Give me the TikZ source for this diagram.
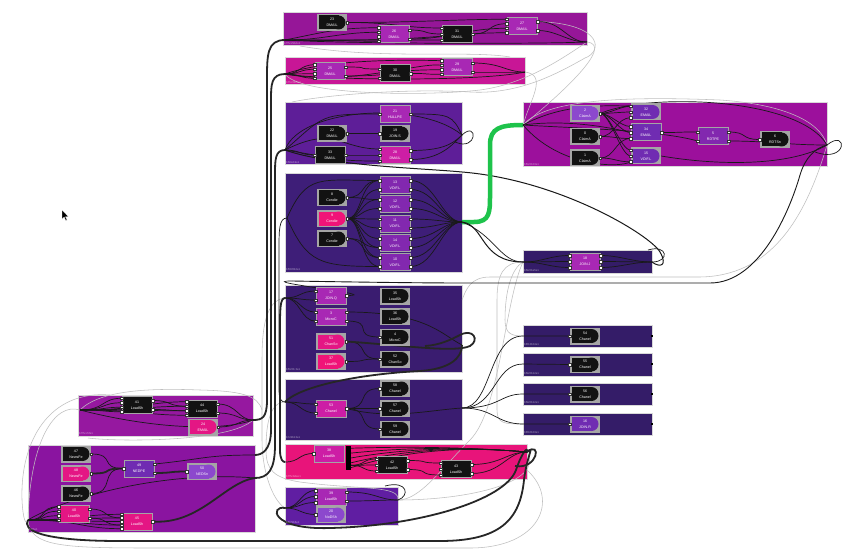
\documentclass[tikz,border=0pt]{standalone}
\usepackage{fontspec}
\setmainfont{Liberation Sans}
\usepackage{tikz}
\usetikzlibrary{calc}
\pgfdeclarelayer{bg}
\pgfdeclarelayer{wire}
\pgfsetlayers{bg,wire,main}

\definecolor{cA}{RGB}{150,22,152}
\definecolor{cB}{RGB}{200,22,150}
\definecolor{cC}{RGB}{94,30,152}
\definecolor{cD}{RGB}{62,30,120}
\definecolor{cE}{RGB}{156,16,156}
\definecolor{cF}{RGB}{52,28,104}
\definecolor{cK}{RGB}{58,28,112}
\definecolor{cM}{RGB}{232,20,122}
\definecolor{cN}{RGB}{96,30,162}
\definecolor{cO}{RGB}{150,24,160}
\definecolor{cP}{RGB}{138,20,160}
\definecolor{kMag}{RGB}{168,40,180}
\definecolor{kRose}{RGB}{205,30,165}
\definecolor{kPink}{RGB}{228,22,132}
\definecolor{kHot}{RGB}{240,20,120}
\definecolor{kVio}{RGB}{112,44,178}
\definecolor{kPur}{RGB}{130,40,175}
\definecolor{kLav}{RGB}{140,72,205}
\definecolor{kBlk}{RGB}{18,18,18}
\definecolor{frame}{RGB}{165,165,165}
\definecolor{wgreen}{RGB}{30,195,75}

\tikzset{
  cont/.style={draw=gray!30, line width=1pt},
  clbl/.style={anchor=south west, inner sep=1pt, text=white, opacity=0.55,
    font=\fontsize{2.8}{3}\selectfont},
  op/.style={minimum width=30pt, minimum height=17pt, inner sep=0pt, align=center,
    text=white, font=\fontsize{3.6}{5.6}\selectfont},
  bx/.style={op, fill=#1, draw=frame, line width=1pt},
  dn/.style={op, fill=frame, path picture={
      \fill[#1] ([shift={(1.5pt,-1.5pt)}]path picture bounding box.north west)
        rectangle ([shift={(-8.5pt,1.5pt)}]path picture bounding box.south east);
      \fill[#1] ([xshift=-8.5pt]path picture bounding box.east) circle (7pt);}},
  port/.style={fill=white, draw=black!80, line width=0.3pt},
  wk/.style={draw=black!90, line width=0.7pt},
  wt/.style={draw=black!85, line width=1.8pt},
  wg/.style={draw=gray!50, line width=0.55pt},
  wgr/.style={draw=wgreen, line width=4.5pt}
}

% ports on the left / right side of an operator box
\newcommand\pL[2]{%
  \foreach \k in {1,...,#2}{%
    \pgfmathsetmacro\fr{(\k-0.5)/#2}%
    \coordinate (#1-l\k) at ($(#1.north west)!\fr!(#1.south west)$);
    \filldraw[port] (#1-l\k) +(-1.3pt,-1.3pt) rectangle +(1.3pt,1.3pt);
  }}
\newcommand\pR[2]{%
  \foreach \k in {1,...,#2}{%
    \pgfmathsetmacro\fr{(\k-0.5)/#2}%
    \coordinate (#1-r\k) at ($(#1.north east)!\fr!(#1.south east)$);
    \filldraw[port] (#1-r\k) +(-1.3pt,-1.3pt) rectangle +(1.3pt,1.3pt);
  }}

\begin{document}
\begin{tikzpicture}[x=1pt,y=-1pt]
\useasboundingbox (0,0) rectangle (848,556);

% containers
\begin{pgfonlayer}{bg}
  \fill[white] (0,0) rectangle (848,556);
  \draw[cont,fill=cA] (283,13) rectangle (587,46);
  \draw[cont,fill=cB] (285,58) rectangle (525,85);
  \draw[cont,fill=cC] (285,103) rectangle (462,165);
  \draw[cont,fill=cD] (285,174) rectangle (462,272);
  \draw[cont,fill=cE] (523,103) rectangle (827,167);
  \draw[cont,fill=cF] (523,250) rectangle (652,273);
  \draw[cont,fill=cF] (523,325) rectangle (652,347);
  \draw[cont,fill=cF] (523,353) rectangle (652,376);
  \draw[cont,fill=cF] (523,383) rectangle (652,405);
  \draw[cont,fill=cF] (523,413) rectangle (652,435);
  \draw[cont,fill=cK] (285,285) rectangle (462,372);
  \draw[cont,fill=cK] (285,379) rectangle (462,440);
  \draw[cont,fill=cM] (285,444) rectangle (527,479);
  \draw[cont,fill=cN] (285,487) rectangle (398,525);
  \draw[cont,fill=cO] (78,395) rectangle (253,436);
  \draw[cont,fill=cP] (28,445) rectangle (255,532);
\end{pgfonlayer}

\node[clbl] (lA) at (283,46) {bf75c29b4e1};
\node[clbl] (lB) at (285,85) {bf7c29b5e1};
\node[clbl] (lC) at (285,165) {bf99eb9e1};
\node[clbl] (lD) at (285,272) {bf51f8b2e1};
\node[clbl] (lE) at (523,167) {bf522b03e1};
\node[clbl] (lF) at (523,273) {bf922be5e1};
\node[clbl] (lG) at (523,347) {bf613b04e1};
\node[clbl] (lH) at (523,376) {bf922b12e1};
\node[clbl] (lI) at (523,405) {bf922b12e1};
\node[clbl] (lJ) at (523,435) {bf616b03e1};
\node[clbl] (lK) at (285,372) {bf522b 3e1};
\node[clbl] (lL) at (285,440) {bf 22b13e1};
\node[clbl] (lM) at (285,479) {bf75cbdee1};
\node[clbl] (lN) at (285,525) {bf579b6e1};
\node[clbl] (lO) at (78,436) {bf75cc5fe1};
\node[clbl] (lP) at (28,532) {bf75e1};

% junction points on container edges
\coordinate (Ain) at (285,40);   \coordinate (Aout) at (587,42);
\coordinate (Bin) at (285,74);   \coordinate (Bout) at (525,72);
\coordinate (Cin) at (285,150);  \coordinate (Cout) at (462,135);
\coordinate (Din) at (287,218);  \coordinate (Dout) at (462,222);
\coordinate (Ein) at (523,125);  \coordinate (Eout) at (827,145);
\coordinate (Fin) at (523,262);  \coordinate (Fout) at (652,262);
\coordinate (Gin) at (523,336);  \coordinate (Gout) at (652,336);
\coordinate (Hin) at (523,364);  \coordinate (Hout) at (652,364);
\coordinate (Iin) at (523,394);  \coordinate (Iout) at (652,394);
\coordinate (Jin) at (523,424);  \coordinate (Jout) at (652,424);
\coordinate (Kin) at (285,298);  \coordinate (Kout) at (462,345);
\coordinate (Ktop) at (292,281);
\coordinate (Lin) at (285,402);  \coordinate (Lout) at (462,408);
\coordinate (Min) at (285,462);  \coordinate (Mout) at (527,452);
\coordinate (Nin) at (285,508);  \coordinate (Nout) at (398,500);
\coordinate (Oin) at (80,410);   \coordinate (Oout) at (253,420);
\coordinate (Pin) at (28,520);   \coordinate (Pout) at (255,455);
\coordinate (Pout2) at (255,478);

% A
\node[dn=kBlk] (n23) at (332,22.5) {23\\DMAIL};
\node[bx=kMag] (n26) at (394,34.5) {26\\DMAIL};
\node[bx=kBlk] (n31) at (457,34) {31\\DMAIL};
\node[bx=kMag] (n27) at (522,26) {27\\DMAIL};
\pR{n23}{1} \pL{n26}{4}\pR{n26}{2} \pL{n31}{3}\pR{n31}{1} \pL{n27}{4}\pR{n27}{2}
% B
\node[bx=kMag] (n25) at (330,71.5) {25\\DMAIL};
\node[bx=kBlk] (n30) at (395,73.5) {30\\DMAIL};
\node[bx=kMag] (n29) at (457,67.5) {29\\DMAIL};
\pL{n25}{4}\pR{n25}{2} \pL{n30}{2}\pR{n30}{1} \pL{n29}{4}\pR{n29}{2}
% C
\node[bx=kMag] (n21) at (395,114) {21\\HULLPE};
\node[dn=kBlk] (n22) at (332,133.5) {22\\DMAIL};
\node[dn=kBlk] (n19) at (395,133.5) {19\\JOIN.S};
\node[bx=kBlk] (n33) at (330,155) {33\\DMAIL};
\node[bx=kRose] (n28) at (395,155) {28\\DMAIL};
\pL{n21}{1}\pR{n21}{1} \pR{n22}{1} \pL{n19}{1} \pL{n33}{1}\pR{n33}{1} \pL{n28}{3}\pR{n28}{2}
% D
\node[dn=kBlk] (n8) at (332,197.5) {8\\Condie};
\node[dn=kHot] (n9) at (332,218.5) {9\\Condie};
\node[dn=kBlk] (n7) at (332,238.5) {7\\Condie};
\node[bx=kPur] (n13) at (395,185) {13\\VDIF.L};
\node[bx=kPur] (n12) at (395,204) {12\\VDIF.L};
\node[bx=kPur] (n11) at (395,223.5) {11\\VDIF.L};
\node[bx=kPur] (n14) at (395,243) {14\\VDIF.L};
\node[bx=kPur] (n10) at (395,262) {10\\VDIF.L};
\pR{n8}{1}\pR{n9}{1}\pR{n7}{1}
\foreach \v in {n13,n12,n11,n14,n10}{\pL{\v}{2}\pR{\v}{2}}
% E
\node[dn=kLav] (n2) at (585,113.5) {2\\ClaimA};
\node[dn=kBlk] (n0) at (585,136.5) {0\\ClaimA};
\node[dn=kBlk] (n1) at (585,158) {1\\ClaimA};
\node[dn=kVio] (n32) at (646,112) {32\\EMAIL};
\node[bx=kVio] (n34) at (646,132.5) {34\\EMAIL};
\node[dn=kVio] (n15) at (646,156) {15\\VDIF.L};
\node[bx=kPur] (n5) at (713,136.5) {5\\RDTPE};
\node[dn=kBlk] (n6) at (775,139.5) {6\\RDTSn};
\pR{n2}{1}\pR{n0}{1}\pR{n1}{1} \pL{n32}{3} \pL{n34}{3}\pR{n34}{1} \pL{n15}{3}
\pL{n5}{2}\pR{n5}{2} \pL{n6}{1}
% F .. J
\node[bx=kMag] (n18) at (585,261.5) {18\\JOIN.J};
\node[dn=kBlk] (n54) at (585,336) {54\\Chanel};
\node[dn=kBlk] (n55) at (585,364.5) {55\\Chanel};
\node[dn=kBlk] (n56) at (585,394) {56\\Chanel};
\node[dn=kVio] (n16) at (585,424) {16\\JOIN.R};
\pL{n18}{3}\pR{n18}{3} \pL{n54}{1}\pL{n55}{1}\pL{n56}{1}\pL{n16}{1}
\foreach \c in {Gout,Hout,Iout,Jout}{\fill[black] (\c) +(-1pt,-1.2pt) rectangle +(1pt,1.2pt);}
% K
\node[bx=kMag] (n17) at (331,295.5) {17\\JOIN.Q};
\node[bx=kMag] (n3) at (331,316.5) {3\\MicroC};
\node[dn=kPink] (n51) at (331,341.5) {51\\ChanSo};
\node[dn=kHot] (n37) at (331,361.5) {37\\LoadSh};
\node[dn=kBlk] (n35) at (395,296) {35\\LoadSh};
\node[dn=kBlk] (n36) at (395,316.5) {36\\LoadSh};
\node[dn=kBlk] (n4) at (395,337) {4\\MicroC};
\node[dn=kBlk] (n52) at (395,359) {52\\ChanSo};
\pL{n17}{2}\pR{n17}{1} \pL{n3}{2}\pR{n3}{2} \pR{n51}{1}\pR{n37}{1} \pL{n4}{1}\pL{n52}{1}
% L
\node[bx=kRose] (n53) at (331,408.5) {53\\Chanel};
\node[dn=kBlk] (n58) at (395,388.5) {58\\Chanel};
\node[dn=kBlk] (n57) at (395,408.5) {57\\Chanel};
\node[dn=kBlk] (n59) at (395,429) {59\\Chanel};
\pL{n53}{2}\pR{n53}{1} \pL{n58}{1}\pL{n57}{1}\pL{n59}{1}
% M
\node[bx=kRose] (n38) at (329,453.5) {38\\LoadSh};
\node[fill=black, minimum width=5pt, minimum height=24pt, inner sep=0pt] (bar) at (348,458) {};
\node[bx=kBlk] (n42) at (392,465) {42\\LoadSh};
\node[bx=kBlk] (n43) at (456,469) {43\\LoadSh};
\pL{n38}{1} \pL{n42}{3}\pR{n42}{2} \pL{n43}{3}\pR{n43}{2}
% N
\node[bx=kMag] (n39) at (331,496.5) {39\\LoadSh};
\node[dn=kLav] (n20) at (331,514.5) {20\\NoDSh};
\pL{n39}{3}\pR{n39}{2} \pL{n20}{1}
% O
\node[bx=kBlk] (n41) at (137,405) {41\\LoadSh};
\node[bx=kBlk] (n44) at (202,408.5) {44\\LoadSh};
\node[dn=kPink] (n24) at (203,427) {24\\EMAIL};
\pL{n41}{4}\pR{n41}{2} \pL{n44}{4}\pR{n44}{2} \pR{n24}{1}
% P
\node[dn=kBlk] (n47) at (76,454) {47\\NewsFe};
\node[dn=kPink] (n48) at (76,473.5) {48\\NewsFe};
\node[dn=kBlk] (n46) at (76,493.5) {46\\NewsFe};
\node[bx=kVio] (n49) at (139,468.5) {49\\NEDPE};
\node[dn=kLav] (n50) at (202,471.5) {50\\NEDSn};
\node[bx=kPink] (n40) at (74,513.5) {40\\LoadSh};
\node[bx=kPink] (n45) at (137,521.5) {45\\LoadSh};
\pR{n47}{1}\pR{n48}{1}\pR{n46}{1} \pL{n49}{1}\pR{n49}{2} \pL{n50}{1}
\pL{n40}{4}\pR{n40}{2} \pL{n45}{5}\pR{n45}{1}

% mouse pointer
\filldraw[black, draw=white, line width=0.2pt] (62,210) -- (62,219) -- (64.2,217) -- (65.8,220.5)
  -- (67,220) -- (65.4,216.6) -- (68.2,216.6) -- cycle;

\begin{pgfonlayer}{wire}
% light grey links
\draw[wg] (Aout) .. controls (615,45) and (560,95) .. (Ein);
\draw[wg] (Bout) .. controls (548,75) and (530,100) .. (Ein);
\draw[wg] (n27-r1) .. controls (605,24) and (602,52) .. (585,58) .. controls (560,72) and (520,95) .. (470,92)
  .. controls (400,88) and (320,96) .. (292,102);
\draw[wg] (Bin) .. controls (300,96) and (430,96) .. (480,90) .. controls (525,84) and (560,60) .. (Aout);
\draw[wg] (300,46) .. controls (380,60) and (470,50) .. (510,57);
\draw[wg] (Ein) .. controls (545,100) and (620,96) .. (720,100) .. controls (780,104) and (820,120) .. (Eout);
\draw[wg] (Eout) .. controls (805,220) and (770,276) .. (700,277) -- (490,277)
  .. controls (470,277) and (466,290) .. (462,300);
\draw[wg] (Fin) .. controls (503,262) and (497,275) .. (497,300) -- (497,410)
  .. controls (497,424) and (505,424) .. (Jin);
\draw[wg] (Fin) .. controls (512,268) and (505,290) .. (505,320) .. controls (505,334) and (512,336) .. (Gin);
\draw[wg] (Kin) .. controls (265,300) and (262,330) .. (262,360) -- (262,440)
  .. controls (262,470) and (272,500) .. (Nin);
\draw[wg] (Lin) .. controls (268,402) and (266,430) .. (266,450) .. controls (266,470) and (274,478) .. (300,482)
  .. controls (360,490) and (400,485) .. (Nout);
\draw[wg] (Oin) .. controls (55,402) and (30,440) .. (Pin);
\draw[wg] (110,395) .. controls (50,390) and (20,440) .. (22,500) .. controls (23,520) and (26,526) .. (Pin);
\draw[wg] (Oin) .. controls (100,390) and (150,388) .. (200,390) .. controls (240,391) and (258,395) .. (262,410);
\draw[wg] (Oout) .. controls (230,442) and (120,442) .. (88,438);
\draw[wg] (Mout) .. controls (545,482) and (470,500) .. (Nout);
\draw[wg] (Pin) .. controls (30,546) and (60,548) .. (150,548) -- (470,548)
  .. controls (540,548) and (560,500) .. (527,470);
\draw[wg] (Nout) .. controls (420,500) and (440,470) .. (470,440) .. controls (500,410) and (505,300) .. (Fin);

% backbone
\draw[wt] (Ain) .. controls (267,40) and (267,55) .. (267,80) -- (267,400)
  .. controls (267,418) and (262,420) .. (Oout);
\draw[wt] (Bin) .. controls (271,74) and (271,85) .. (271,100) -- (271,430)
  .. controls (271,450) and (262,455) .. (Pout);
\draw[wt] (Cin) .. controls (275,150) and (275,160) .. (275,175) -- (275,445)
  .. controls (275,470) and (268,478) .. (Pout2);
\draw[wk] (Din) .. controls (279,218) and (279,230) .. (279,250) -- (279,390)
  .. controls (279,400) and (282,402) .. (Lin);
\draw[wt] (Kin) .. controls (280,298) and (280,310) .. (280,330) -- (280,450)
  .. controls (280,460) and (283,462) .. (Min);
\draw[wt] (Pin) .. controls (22,530) and (40,541) .. (120,541) -- (440,541)
  .. controls (500,541) and (520,520) .. (524,480) .. controls (527,455) and (535,445) .. (Mout);
\draw[wt] (Nin) .. controls (270,505) and (270,530) .. (330,528) .. controls (420,526) and (505,500) .. (516,470)
  .. controls (522,452) and (528,446) .. (Mout);

% A
\draw[wk] (n23-r1) .. controls +(70,0) and +(-50,0) .. (n27-l1);
\draw[wk] (n23-r1) .. controls +(50,0) and +(-40,0) .. (n31-l1);
\draw[wk] (Ain) .. controls +(40,-8) and +(-40,0) .. (n26-l1);
\draw[wk] (Ain) .. controls +(40,0) and +(-40,0) .. (n26-l2);
\draw[wk] (Ain) .. controls +(40,0) and +(-30,0) .. (n26-l4);
\draw[wk] (Ain) .. controls +(100,0) and +(-40,0) .. (n31-l3);
\draw[wk] (Ain) .. controls +(150,2) and +(-60,0) .. (n27-l4);
\draw[wk] (n26-r1) .. controls +(20,0) and +(-20,0) .. (n31-l2);
\draw[wk] (n26-r2) .. controls +(40,0) and +(-40,0) .. (n27-l3);
\draw[wk] (n31-r1) .. controls +(20,0) and +(-20,0) .. (n27-l2);
\draw[wk] (n27-r1) .. controls +(25,0) and +(-20,0) .. (Aout);
\draw[wk] (n27-r2) .. controls +(20,0) and +(-20,0) .. (Aout);
\draw[wk] (Ain) .. controls (350,44) and (540,44) .. (Aout);
% B
\foreach \k in {1,...,4}{\draw[wk] (Bin) .. controls +(15,0) and +(-15,0) .. (n25-l\k);}
\draw[wk] (n25-r1) .. controls +(30,0) and +(-30,0) .. (n30-l1);
\draw[wk] (n25-r2) .. controls +(60,0) and +(-60,0) .. (n29-l3);
\draw[wk] (n30-r1) .. controls +(25,0) and +(-25,0) .. (n29-l4);
\draw[wk] (Bin) .. controls (330,58) and (420,60) .. (n29-l1);
\draw[wk] (Bin) .. controls (350,86) and (420,62) .. (n29-l2);
\draw[wk] (n29-r1) .. controls +(30,0) and +(-20,0) .. (Bout);
\draw[wk] (n29-r2) .. controls +(25,0) and +(-20,0) .. (Bout);
\draw[wk] (Bin) .. controls (320,80) and (480,82) .. (Bout);
% C
\draw[wk] (Cin) .. controls +(40,-35) and +(-60,0) .. (n21-l1);
\draw[wk] (n22-r1) .. controls +(20,0) and +(-20,0) .. (n19-l1);
\draw[wk] (Cin) .. controls +(15,0) and +(-15,0) .. (n33-l1);
\draw[wk] (n33-r1) .. controls +(20,0) and +(-20,0) .. (n28-l2);
\draw[wk] (Cin) .. controls +(50,-25) and +(-40,0) .. (n28-l1);
\draw[wk] (Cin) .. controls +(60,10) and +(-40,0) .. (n28-l3);
\draw[wk] (n21-r1) .. controls +(40,0) and +(-10,-20) .. (Cout);
\draw[wk] (n28-r1) .. controls +(30,0) and +(-10,10) .. (Cout);
\draw[wk] (n28-r2) .. controls +(30,0) and +(-10,10) .. (Cout);
\draw[wk] (Cout) .. controls (478,120) and (478,152) .. (455,142);
\draw[wk] (Cin) .. controls (300,108) and (420,100) .. (Cout);
\draw[wk, line width=1pt] (Cin) .. controls (330,166) and (420,168) .. (462,172)
  .. controls (560,180) and (650,235) .. (660,252) .. controls (668,266) and (660,268) .. (Fout);
% D
\foreach \v in {n13,n12,n11,n14,n10}{
  \draw[wk] (n9-r1) .. controls +(15,0) and +(-20,0) .. (\v-l1);
  \draw[wk] (n9-r1) .. controls +(15,0) and +(-20,0) .. (\v-l2);
  \draw[wk] (\v-r1) .. controls +(25,0) and +(-20,0) .. (Dout);
  \draw[wk] (\v-r2) .. controls +(25,0) and +(-20,0) .. (Dout);}
\draw[wk] (n8-r1) .. controls +(20,0) and +(-20,0) .. (n13-l1);
\draw[wk] (n8-r1) .. controls +(20,0) and +(-20,0) .. (n12-l1);
\draw[wk] (n7-r1) .. controls +(20,0) and +(-20,0) .. (n14-l2);
\draw[wk] (n7-r1) .. controls +(20,0) and +(-20,0) .. (n10-l1);
\draw[wk] (Din) .. controls +(20,-45) and +(-60,0) .. (n13-l1);
\draw[wk] (Din) .. controls +(20,45) and +(-60,0) .. (n10-l2);
\draw[wgr] (Dout) -- (474,222) .. controls (490,222) and (490,212) .. (490,195) -- (490,145)
  .. controls (490,128) and (500,125) .. (Ein);
\draw[wk, line width=1pt] (Dout) .. controls (485,225) and (480,262) .. (Fin);
\draw[wk] (Dout) .. controls (495,235) and (500,262) .. (Fin);
% E
\draw[wk] (Ein) .. controls (560,105) and (600,105) .. (n32-l1);
\draw[wk] (Ein) .. controls (560,120) and (600,125) .. (n34-l2);
\draw[wk] (Ein) .. controls (570,128) and (660,130) .. (n5-l2);
\draw[wk] (Ein) .. controls (560,168) and (620,168) .. (n15-l3);
\foreach \t in {n32-l1,n32-l2,n34-l1,n34-l2,n15-l1,n15-l2}{
  \draw[wk] (n2-r1) .. controls +(10,0) and +(-10,0) .. (\t);}
\draw[wk] (n0-r1) .. controls +(15,0) and +(-15,0) .. (n34-l3);
\draw[wk] (n0-r1) .. controls +(15,0) and +(-15,0) .. (n32-l3);
\draw[wk] (n1-r1) .. controls +(15,0) and +(-15,0) .. (n15-l3);
\draw[wk] (n1-r1) .. controls +(15,0) and +(-15,0) .. (n34-l3);
\draw[wk] (n34-r1) .. controls +(25,0) and +(-25,0) .. (n5-l1);
\draw[wk] (n5-r1) .. controls +(20,0) and +(-20,0) .. (n6-l1);
\draw[wk] (n5-r2) .. controls +(40,0) and +(-40,0) .. (Eout);
\draw[wk] (n2-r1) .. controls (650,92) and (800,98) .. (Eout);
\draw[wk] (n15.east) .. controls (720,166) and (790,166) .. (Eout);
\draw[wk] (Eout) .. controls (848,128) and (848,164) .. (815,152);
\draw[wk, line width=0.9pt] (Ktop) .. controls (350,282) and (420,283) .. (462,283) -- (710,283)
  .. controls (760,283) and (790,210) .. (800,175) .. controls (805,158) and (815,148) .. (Eout);
% F
\foreach \k in {1,2,3}{
  \draw[wk] (Fin) .. controls +(20,0) and +(-20,0) .. (n18-l\k);
  \draw[wk] (n18-r\k) .. controls +(20,0) and +(-20,0) .. (Fout);}
\draw[wk] (Fout) .. controls (670,262) and (668,244) .. (648,250);
% G .. J
\draw[wk] (Lout) .. controls (492,408) and (488,336) .. (Gin);
\draw[wk] (Lout) .. controls (496,408) and (494,364) .. (Hin);
\draw[wk] (Lout) .. controls (500,408) and (500,394) .. (Iin);
\draw[wk] (Lout) .. controls (494,408) and (496,424) .. (Jin);
\draw[wk] (Gin) -- (n54-l1); \draw[wk] (Hin) -- (n55-l1);
\draw[wk] (Iin) -- (n56-l1); \draw[wk] (Jin) -- (n16-l1);
% K
\foreach \t in {n17-l1,n17-l2,n3-l1,n3-l2}{\draw[wk] (Kin) .. controls +(15,0) and +(-15,0) .. (\t);}
\draw[wk] (n17-r1) .. controls +(40,0) and +(-40,0) .. (Ktop);
\draw[wk] (n3-r1) .. controls +(80,0) and +(-20,-10) .. (Kout);
\draw[wk] (n3-r2) .. controls +(30,0) and +(-30,0) .. (n4-l1);
\draw[wk] (n51-r1) .. controls +(25,0) and +(-25,0) .. (n52-l1);
\draw[wk] (n37-r1) .. controls +(25,0) and +(-25,0) .. (n52-l1);
\draw[wt] (n51-r1) .. controls (400,345) and (455,353) .. (470,346) .. controls (480,340) and (473,328) .. (460,335)
  .. controls (450,340) and (440,345) .. (425,346);
\draw[wt] (Lin) .. controls (300,386) and (360,374) .. (420,371) .. controls (450,369) and (462,358) .. (Kout);
% L
\draw[wk] (Lin) .. controls +(15,0) and +(-15,0) .. (n53-l1);
\draw[wk] (Lin) .. controls +(15,0) and +(-15,0) .. (n53-l2);
\foreach \t in {n58-l1,n57-l1,n59-l1}{\draw[wk] (n53-r1) .. controls +(25,0) and +(-25,0) .. (\t);}
\draw[wk] (n53-r1) .. controls (390,420) and (430,410) .. (Lout);
% M
\draw[wk] (Min) .. controls +(15,0) and +(-15,0) .. (n38-l1);
\foreach \f in {0.1,0.3,0.5,0.7,0.9}{
  \draw[wk] ($(bar.north east)!\f!(bar.south east)$) .. controls (420,446) and (480,448) .. (Mout);}
\foreach \k in {1,2,3}{\draw[wk] ($(bar.north east)!0.8!(bar.south east)$) .. controls +(15,0) and +(-15,0) .. (n42-l\k);}
\draw[wk] (n42-r1) .. controls +(25,0) and +(-25,0) .. (n43-l1);
\draw[wk] (n42-r2) .. controls +(25,0) and +(-25,0) .. (n43-l3);
\draw[wk] (n43-r1) .. controls +(30,0) and +(-20,0) .. (Mout);
\draw[wk] (n43-r2) .. controls +(30,0) and +(-20,0) .. (Mout);
\draw[wt] (Mout) .. controls (542,440) and (538,470) .. (515,466);
% N
\foreach \k in {1,2,3}{\draw[wk] (Nin) .. controls +(15,0) and +(-15,0) .. (n39-l\k);}
\draw[wk] (Nin) .. controls +(15,0) and +(-15,0) .. (n20-l1);
\draw[wk] (n39-r1) .. controls +(30,0) and +(-20,0) .. (Nout);
\draw[wk] (n39-r2) .. controls +(30,0) and +(-20,0) .. (Nout);
\draw[wk] (Nout) .. controls (410,496) and (408,480) .. (385,486);
% O
\foreach \k in {1,...,4}{
  \draw[wk] (Oin) .. controls +(25,0) and +(-20,0) .. (n41-l\k);
  \draw[wk] (Oin) .. controls +(60,0) and +(-40,0) .. (n44-l\k);}
\draw[wk] (n41-r1) .. controls +(20,0) and +(-20,0) .. (n44-l2);
\draw[wk] (n41-r2) .. controls +(20,0) and +(-20,0) .. (n44-l3);
\draw[wk] (n44-r1) .. controls +(20,0) and +(-15,0) .. (Oout);
\draw[wk] (n44-r2) .. controls +(20,0) and +(-15,0) .. (Oout);
\draw[wk] (n24-r1) .. controls +(20,0) and +(-15,0) .. (Oout);
\draw[wk] (Oin) .. controls (150,428) and (220,432) .. (Oout);
% P
\draw[wk] (n47-r1) .. controls +(25,0) and +(-25,0) .. (n49-l1);
\draw[wt] (n48-r1) .. controls +(25,0) and +(-25,0) .. (n49-l1);
\draw[wk] (n46-r1) .. controls +(25,0) and +(-25,0) .. (n49-l1);
\draw[wk] (n49-r1) .. controls +(50,-5) and +(-50,0) .. (Pout);
\draw[wt] (n49-r2) .. controls +(20,0) and +(-20,0) .. (n50-l1);
\foreach \k in {1,...,4}{\draw[wk] (Pin) .. controls +(20,0) and +(-20,0) .. (n40-l\k);}
\foreach \k in {1,...,5}{\draw[wk] (Pin) .. controls +(50,0) and +(-40,0) .. (n45-l\k);}
\draw[wk] (n40-r1) .. controls +(20,0) and +(-20,0) .. (n45-l2);
\draw[wk] (n40-r2) .. controls +(20,0) and +(-20,0) .. (n45-l4);
\draw[wt] (n45-r1) .. controls (200,525) and (225,482) .. (Pout2);
\draw[wk] (Pin) .. controls (60,500) and (160,470) .. (Pout2);
\end{pgfonlayer}
\end{tikzpicture}
\end{document}
